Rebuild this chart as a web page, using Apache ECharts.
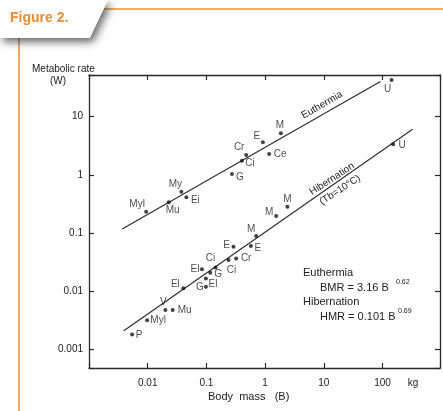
<!DOCTYPE html>
<html>
<head>
<meta charset="utf-8">
<script src="https://cdn.jsdelivr.net/npm/echarts@6/dist/echarts.min.js"></script>
<style>
  html, body { margin: 0; padding: 0; background: #ffffff; }
  #chart { width: 443px; height: 411px; }
</style>
</head>
<body>
<div id="chart"></div>
<script>
// body mass (kg) / metabolic rate (W)
const euthNames = ['Myl', 'Mu', 'My', 'Ei', 'G', 'Ci', 'Cr', 'Ce', 'E', 'M', 'U']
const euthMass = [0.0094, 0.0228, 0.0374, 0.0455, 0.272, 0.402, 0.475, 1.17, 0.914, 1.85, 142]
const euthRate = [0.232, 0.337, 0.513, 0.411, 1.03, 1.75, 2.19, 2.29, 3.63, 5.19, 42.8]

const hibNames = ['P', 'Myl', 'V', 'Mu', 'El', 'El', 'Ci', 'G', 'El', 'G', 'Ci', 'Cr', 'E', 'E', 'M', 'M', 'M', 'U']
const hibMass = [0.00543, 0.00977, 0.020, 0.0266, 0.0405, 0.084, 0.143, 0.116, 0.098, 0.098, 0.238, 0.321, 0.289, 0.571, 0.703, 1.54, 2.39, 151]
const hibRate = [0.00181, 0.00319, 0.00474, 0.00474, 0.0113, 0.0238, 0.0257, 0.0207, 0.0166, 0.0119, 0.0343, 0.0367, 0.058, 0.0597, 0.0887, 0.196, 0.283, 3.35]

// regression lines (end points as drawn)
const euthLineMass = [0.00367, 91.8]
const euthLineRate = [0.117, 40.3]
const hibLineMass = [0.00391, 324]
const hibLineRate = [0.00209, 6.07]

// tick labels
const xTickValues = [0.01, 0.1, 1, 10, 100]
const xTickLabels = ['0.01', '0.1', '1', '10', '100']
const yTickValues = [0.001, 0.01, 0.1, 1, 10]
const yTickLabels = ['0.001', '0.01', '0.1', '1', '10']

// label offsets (px from the dot), style only
const euthLabelOffset = [[-9, -8], [4, 8], [-6, -7], [9, 3], [8, 3], [8, 3], [-7, -8], [11, 0], [-6, -6], [-1, -8], [-4, 9]]
const hibLabelOffset = [[7, 1], [11, 0], [-2, -8], [12, 0], [-8, -4], [-7, 0], [-5, -9], [8, 1], [7, 6], [-6, 0], [3, 10], [10, 0], [-7, -2], [7, 2], [-5, -7], [-7, -4], [0, -8], [9, 1]]

const FONT = '"Liberation Sans", Arial, Helvetica, sans-serif'
const INK = '#222222'
const ORANGE = '#e88d33'

const tickFormatter = (values, labels) => (v) => {
  for (let i = 0; i < values.length; i++) {
    if (Math.abs(Math.log10(v) - Math.log10(values[i])) < 1e-6) return labels[i]
  }
  return ''
}

const pointData = (mass, rate, names, offsets) => mass.map((m, i) => ({
  value: [m, rate[i]],
  name: names[i],
  label: { offset: offsets[i] }
}))

const chart = echarts.init(document.getElementById('chart'))

const axisLine = { show: true, lineStyle: { color: '#2a2a2a', width: 1.3 } }
const axisTick = { show: true, inside: true, length: 5, lineStyle: { color: '#2a2a2a', width: 1.2 } }

const option = {
  backgroundColor: '#ffffff',
  animation: false,
  grid: { left: 89, right: 3, top: 75, bottom: 43 },
  xAxis: [
    {
      type: 'log', min: 0.001, max: 950, position: 'bottom',
      axisLine, axisTick,
      splitLine: { show: false },
      axisLabel: {
        formatter: tickFormatter(xTickValues, xTickLabels),
        color: INK, fontSize: 10, fontFamily: FONT, margin: 10
      }
    },
    {
      type: 'log', min: 0.001, max: 950, position: 'top',
      axisLine, axisTick,
      splitLine: { show: false },
      axisLabel: { show: false }
    }
  ],
  yAxis: [
    {
      type: 'log', min: 0.00048, max: 52, position: 'left',
      axisLine, axisTick,
      splitLine: { show: false },
      axisLabel: {
        formatter: tickFormatter(yTickValues, yTickLabels),
        color: INK, fontSize: 10, fontFamily: FONT, margin: 6
      }
    },
    {
      type: 'log', min: 0.00048, max: 52, position: 'right',
      axisLine, axisTick,
      splitLine: { show: false },
      axisLabel: { show: false }
    }
  ],
  series: [
    {
      name: 'Euthermia line',
      type: 'line',
      data: euthLineMass.map((m, i) => [m, euthLineRate[i]]),
      showSymbol: false,
      lineStyle: { color: '#2a2a2a', width: 1.1 },
      z: 1
    },
    {
      name: 'Hibernation line',
      type: 'line',
      data: hibLineMass.map((m, i) => [m, hibLineRate[i]]),
      showSymbol: false,
      lineStyle: { color: '#2a2a2a', width: 1.1 },
      z: 1
    },
    {
      name: 'Euthermia',
      type: 'scatter',
      data: pointData(euthMass, euthRate, euthNames, euthLabelOffset),
      symbolSize: 4,
      itemStyle: { color: '#111111' },
      label: {
        show: true, position: 'inside', formatter: '{b}',
        color: INK, fontSize: 10, fontFamily: FONT
      },
      z: 3
    },
    {
      name: 'Hibernation',
      type: 'scatter',
      data: pointData(hibMass, hibRate, hibNames, hibLabelOffset),
      symbolSize: 4,
      itemStyle: { color: '#111111' },
      label: {
        show: true, position: 'inside', formatter: '{b}',
        color: INK, fontSize: 10, fontFamily: FONT
      },
      z: 3
    }
  ],
  graphic: [
    // header tab
    {
      type: 'polygon',
      shape: { points: [[0, 0], [108, 0], [90, 38], [0, 38]] },
      style: {
        fill: '#ffffff',
        shadowBlur: 8, shadowOffsetX: 3, shadowOffsetY: 4,
        shadowColor: 'rgba(0,0,0,0.6)'
      },
      z: 10
    },
    {
      type: 'line',
      shape: { x1: 104, y1: 9, x2: 443, y2: 9 },
      style: { stroke: ORANGE, lineWidth: 1.5 },
      z: 9
    },
    {
      type: 'line',
      shape: { x1: 19, y1: 38, x2: 19, y2: 411 },
      style: { stroke: ORANGE, lineWidth: 1.5 },
      z: 9
    },
    {
      type: 'text', x: 10, y: 18,
      style: { text: 'Figure 2.', fill: ORANGE, font: 'bold 14px ' + FONT, verticalAlign: 'middle' },
      z: 11
    },
    // axis titles
    {
      type: 'text', x: 32, y: 69,
      style: { text: 'Metabolic rate', fill: INK, font: '10px ' + FONT, verticalAlign: 'middle' }
    },
    {
      type: 'text', x: 50, y: 81,
      style: { text: '(W)', fill: INK, font: '10px ' + FONT, verticalAlign: 'middle' }
    },
    {
      type: 'text', x: 208, y: 397,
      style: { text: 'Body  mass   (B)', fill: INK, font: '11px ' + FONT, verticalAlign: 'middle' }
    },
    {
      type: 'text', x: 413, y: 383,
      style: { text: 'kg', fill: INK, font: '10px ' + FONT, align: 'center', verticalAlign: 'middle' }
    },
    // line labels
    {
      type: 'text', x: 322, y: 105, rotation: 0.52,
      style: { text: 'Euthermia', fill: INK, font: '10px ' + FONT, align: 'center', verticalAlign: 'middle' }
    },
    {
      type: 'text', x: 332, y: 179, rotation: 0.58,
      style: { text: 'Hibernation', fill: INK, font: '10px ' + FONT, align: 'center', verticalAlign: 'middle' }
    },
    {
      type: 'text', x: 340, y: 190, rotation: 0.58,
      style: { text: '(Tb=10°C)', fill: INK, font: '10px ' + FONT, align: 'center', verticalAlign: 'middle' }
    },
    // equations
    {
      type: 'text', x: 303, y: 273,
      style: { text: 'Euthermia', fill: INK, font: '11px ' + FONT, verticalAlign: 'middle' }
    },
    {
      type: 'text', x: 320, y: 288,
      style: { text: 'BMR = 3.16 B', fill: INK, font: '11px ' + FONT, verticalAlign: 'middle' }
    },
    {
      type: 'text', x: 396, y: 282,
      style: { text: '0.62', fill: INK, font: '7px ' + FONT, verticalAlign: 'middle' }
    },
    {
      type: 'text', x: 303, y: 302,
      style: { text: 'Hibernation', fill: INK, font: '11px ' + FONT, verticalAlign: 'middle' }
    },
    {
      type: 'text', x: 320, y: 317,
      style: { text: 'HMR = 0.101 B', fill: INK, font: '11px ' + FONT, verticalAlign: 'middle' }
    },
    {
      type: 'text', x: 398, y: 311,
      style: { text: '0.69', fill: INK, font: '7px ' + FONT, verticalAlign: 'middle' }
    }
  ]
}

chart.setOption(option)
</script>
</body>
</html>
